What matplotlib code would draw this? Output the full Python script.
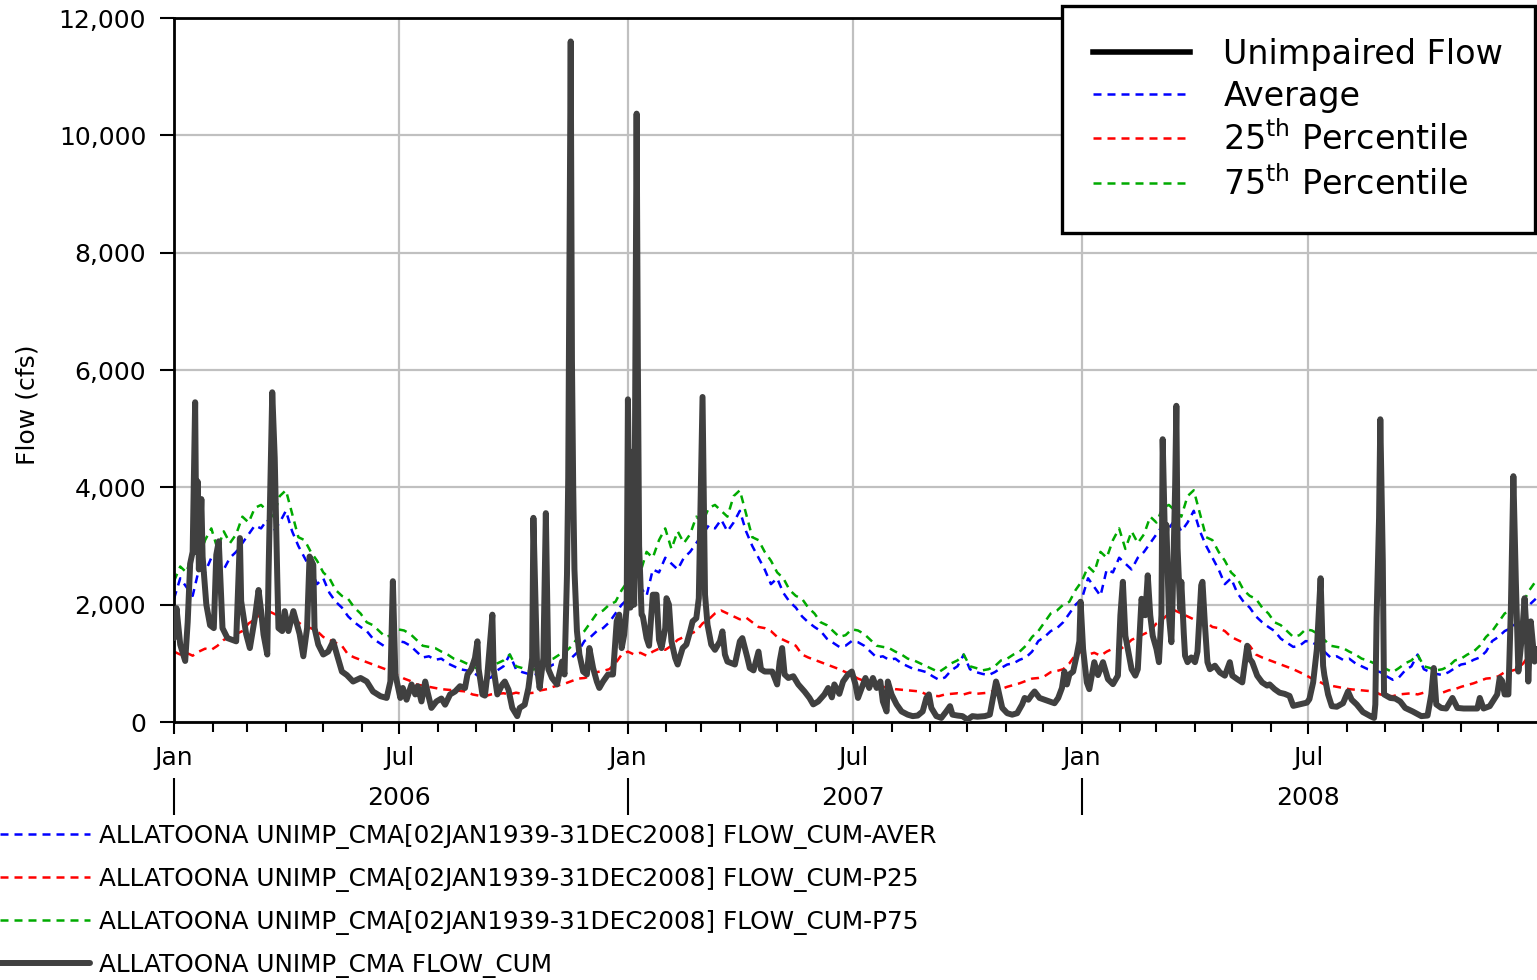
import datetime as dt
import matplotlib
matplotlib.use("Agg")
import matplotlib.pyplot as plt
import matplotlib.dates as mdates
from matplotlib.lines import Line2D
from matplotlib.ticker import FuncFormatter

plt.rcParams['font.family'] = ['DejaVu Sans']
plt.rcParams['mathtext.fontset'] = 'dejavusans'

# ---------------------------------------------------------------- data
start = dt.date(2006, 1, 1)
end = dt.date(2009, 1, 1)
years = [2006, 2007, 2008]
year_labels = ['2006', '2007', '2008']
half_labels = ['Jan', 'Jul']
flow_ticks = list(range(0, 12001, 2000))

# 1939-2008 daily statistics, every 5th day of the year (day 0 = 1 Jan)
clim_day = list(range(0, 366, 5))
aver = [2100, 2450, 2300, 2150, 2600, 2550, 2800, 2700, 2600, 2800,
        2900, 3050, 3200, 3350, 3300, 3450, 3250, 3400, 3600, 3250,
        3000, 2800, 2600, 2350, 2450, 2200, 2050, 1950, 1800, 1700,
        1620, 1550, 1420, 1350, 1280, 1300, 1380, 1360, 1300, 1200,
        1100, 1120, 1060, 1080, 1000, 950, 900, 880, 850, 780,
        720, 760, 880, 950, 1150, 900, 850, 820, 800, 850,
        920, 980, 1000, 1060, 1100, 1200, 1380, 1450, 1550, 1600,
        1700, 1850, 2000, 2100]
p25 = [1200, 1150, 1180, 1130, 1200, 1250, 1230, 1300, 1400, 1450,
       1500, 1550, 1680, 1750, 1850, 1900, 1850, 1800, 1750, 1780,
       1700, 1620, 1600, 1550, 1450, 1400, 1350, 1300, 1150, 1100,
       1060, 1020, 980, 940, 900, 850, 800, 740, 700, 640,
       620, 600, 580, 560, 550, 540, 530, 520, 470, 450,
       440, 470, 480, 490, 470, 500, 480, 490, 500, 540,
       560, 600, 630, 660, 700, 740, 750, 780, 850, 870,
       900, 1000, 1150, 1200]
p75 = [2400, 2650, 2550, 2900, 2800, 3100, 3300, 2950, 3250, 3050,
       3200, 3500, 3400, 3650, 3700, 3600, 3500, 3850, 3950, 3550,
       3150, 3100, 2900, 2750, 2550, 2450, 2250, 2150, 2100, 1950,
       1850, 1700, 1650, 1550, 1450, 1480, 1580, 1560, 1500, 1400,
       1300, 1280, 1260, 1200, 1150, 1080, 1050, 1000, 950, 900,
       850, 920, 1000, 1050, 1150, 950, 920, 880, 900, 950,
       1050, 1080, 1150, 1200, 1300, 1450, 1550, 1700, 1850, 1900,
       2000, 2050, 2250, 2400]

# unimpaired flow, days since 1 Jan 2006 and cfs
flow_day = [
    0, 2, 5, 9, 11, 13, 15, 17, 18, 19, 20, 22, 23, 26, 29, 32, 34, 36, 39, 43,
    50, 53, 54, 58, 61, 65, 68, 70, 72, 75, 76, 79, 81, 83, 84, 87, 89, 92, 96, 99,
    101, 104, 107, 109, 112, 113, 116, 120, 124, 128, 131, 135, 139, 144, 150, 155, 160, 166, 171, 174,
    176, 178, 182, 184, 187, 191, 194, 196, 199, 202, 204, 207, 211, 215, 218, 222, 226, 230, 234, 236,
    239, 242, 244, 245, 248, 250, 252, 256, 257, 260, 264, 266, 269, 272, 276, 278, 282, 285, 288, 289,
    292, 294, 297, 299, 301, 304, 308, 312, 314, 316, 317, 319, 320, 321, 322, 324, 326, 329, 332, 334,
    337, 340, 342, 345, 349, 353, 356, 358, 360, 362, 364, 365, 367, 369, 370, 372, 373, 374, 376, 377,
    380, 382, 385, 388, 390, 392, 395, 396, 398, 400, 403, 405, 409, 412, 415, 417, 420, 422, 425, 427,
    429, 432, 435, 439, 441, 443, 445, 451, 455, 457, 461, 463, 466, 470, 472, 475, 481, 485, 487, 489,
    491, 494, 498, 502, 507, 511, 514, 518, 523, 526, 529, 531, 535, 538, 542, 545, 548, 550, 553, 556,
    559, 562, 565, 568, 570, 573, 574, 577, 581, 585, 590, 594, 598, 602, 605, 607, 609, 613, 617, 621,
    624, 626, 630, 634, 638, 642, 646, 652, 656, 658, 661, 662, 666, 670, 674, 678, 682, 684, 687, 690,
    692, 696, 700, 704, 708, 711, 714, 716, 718, 720, 723, 726, 728, 729, 731, 734, 736, 740, 743, 747,
    751, 755, 759, 761, 763, 765, 767, 770, 773, 775, 778, 781, 783, 785, 787, 790, 792, 794, 795, 797,
    798, 800, 802, 803, 805, 806, 807, 809, 810, 812, 813, 815, 818, 821, 823, 826, 827, 829, 831, 833,
    837, 841, 845, 849, 851, 855, 859, 863, 865, 867, 871, 875, 879, 881, 885, 889, 893, 897, 900, 905,
    911, 913, 916, 919, 922, 924, 925, 928, 931, 935, 940, 944, 947, 951, 956, 962, 965, 966, 967, 969,
    970, 972, 973, 978, 982, 986, 990, 996, 1003, 1008, 1011, 1013, 1015, 1019, 1023, 1028, 1032, 1037, 1042, 1048,
    1050, 1053, 1058, 1064, 1066, 1068, 1070, 1073, 1075, 1077, 1079, 1081, 1084, 1086, 1088, 1089, 1091, 1093, 1094, 1096,
]
flow_cfs = [
    1430, 1940, 1320, 1040, 1700, 2700, 2900, 5450, 2900, 4100, 2600, 3800, 2820, 2000, 1650, 1600, 2850, 3080, 1600, 1430,
    1375, 3135, 2060, 1500, 1260, 1770, 2250, 1900, 1490, 1150, 2500, 5620, 4500, 2500, 1600, 1550, 1890, 1550, 1890, 1660,
    1500, 1120, 1600, 2820, 2680, 1600, 1320, 1150, 1200, 1375, 1150, 860, 800, 690, 750, 690, 520, 440, 410, 690,
    2400, 810, 410, 580, 380, 640, 470, 610, 350, 690, 500, 240, 350, 400, 295, 470, 520, 610, 580, 810,
    900, 1090, 1375, 900, 470, 450, 810, 1830, 900, 470, 640, 690, 550, 240, 100, 240, 295, 580, 1090, 3480,
    920, 580, 1090, 3560, 900, 750, 640, 1030, 810, 2510, 4160, 11600, 6150, 4000, 2600, 1550, 1150, 860, 810, 1260,
    920, 690, 580, 690, 810, 810, 1720, 1830, 1260, 1490, 1950, 5500, 1950, 4610, 2000, 10370, 6100, 3000, 1830, 1800,
    1430, 1300, 2170, 2170, 1400, 1260, 1600, 2110, 2000, 1375, 1090, 980, 1260, 1320, 1545, 1715, 1770, 2110, 5540, 2170,
    1660, 1320, 1230, 1375, 1545, 1150, 1030, 980, 1375, 1430, 1100, 920, 880, 1200, 900, 860, 860, 640, 1030, 1260,
    810, 750, 780, 640, 520, 410, 300, 350, 470, 580, 420, 640, 480, 690, 810, 860, 640, 410, 580, 750,
    580, 750, 580, 690, 350, 180, 690, 470, 300, 180, 125, 100, 110, 180, 410, 470, 240, 100, 70, 180,
    270, 125, 110, 100, 40, 100, 90, 100, 125, 350, 690, 620, 240, 150, 125, 150, 300, 410, 380, 470,
    520, 410, 380, 350, 320, 410, 580, 860, 640, 810, 860, 1150, 1375, 2050, 1245, 675, 560, 1020, 800, 1020,
    730, 645, 790, 1820, 2390, 1470, 1245, 900, 790, 900, 2100, 1820, 2500, 1820, 1470, 1245, 1020, 1820, 4820, 2960,
    3360, 1820, 1360, 2100, 3990, 5390, 2960, 1930, 2390, 1500, 1130, 1020, 1100, 1020, 1200, 2330, 2390, 1650, 1020, 900,
    960, 845, 790, 1020, 790, 730, 675, 1300, 1075, 1020, 790, 675, 620, 640, 560, 500, 480, 445, 275, 300,
    330, 390, 675, 1245, 2450, 960, 800, 470, 270, 260, 320, 520, 380, 300, 170, 100, 70, 300, 1770, 3480,
    5160, 2740, 470, 410, 400, 350, 240, 180, 100, 110, 470, 920, 300, 240, 230, 410, 240, 230, 230, 230,
    410, 230, 270, 470, 750, 700, 470, 470, 1940, 4190, 2390, 860, 1490, 2110, 1400, 690, 1715, 1260, 1030, 1245,
]

series_names = [
    'ALLATOONA UNIMP_CMA[02JAN1939-31DEC2008] FLOW_CUM-AVER',
    'ALLATOONA UNIMP_CMA[02JAN1939-31DEC2008] FLOW_CUM-P25',
    'ALLATOONA UNIMP_CMA[02JAN1939-31DEC2008] FLOW_CUM-P75',
    'ALLATOONA UNIMP_CMA FLOW_CUM',
]
key_names = ['Unimpaired Flow', 'Average',
             r'25$^{\mathrm{th}}$ Percentile', r'75$^{\mathrm{th}}$ Percentile']

# ---------------------------------------------------------------- styles
FLOW_C = '#404040'
AVER_C = '#0000ff'
P25_C = '#ff0000'
P75_C = '#00aa00'
GRID_C = '#c0c0c0'
DASH = (0, (3.2, 2.4))


def day_nums(days, origin):
    return mdates.date2num([origin + dt.timedelta(days=int(d)) for d in days])


W, H = 1537, 980
fig = plt.figure(figsize=(W / 100, H / 100), dpi=100, facecolor='white')
ax = fig.add_axes([174 / W, 1 - 722 / H, (W - 174) / W, (722 - 18) / H])

# statistics repeat every calendar year
clim_x = []
for y in years:
    clim_x.extend(day_nums(clim_day, dt.date(y, 1, 1)))
n_years = len(years)

l_aver, = ax.plot(clim_x, aver * n_years, color=AVER_C, lw=1.8, ls=DASH, zorder=2)
l_p25, = ax.plot(clim_x, p25 * n_years, color=P25_C, lw=1.8, ls=DASH, zorder=2)
l_p75, = ax.plot(clim_x, p75 * n_years, color=P75_C, lw=1.8, ls=DASH, zorder=2)
l_flow, = ax.plot(day_nums(flow_day, start), flow_cfs, color=FLOW_C, lw=4.3,
                  solid_joinstyle='round', solid_capstyle='round', zorder=3)

ax.set_xlim(mdates.date2num(start), mdates.date2num(end))
ax.set_ylim(0, 12000)

# axes frame
for side in ('left', 'bottom', 'top'):
    ax.spines[side].set_linewidth(2)
    ax.spines[side].set_color('black')
ax.spines['right'].set_visible(False)

# y axis
ax.set_yticks(flow_ticks)
ax.yaxis.set_major_formatter(FuncFormatter(lambda v, p: f'{v:,.0f}'))
ax.tick_params(axis='y', which='major', length=10, width=1.5, direction='out',
               pad=10, labelsize=18)
ax.set_ylabel('Flow (cfs)', fontsize=18, va='center')
ax.yaxis.set_label_coords(-0.1078, 0.450)

# x axis: Jan / Jul labels, monthly minor ticks
half_dates = [dt.date(y, m, 1) for y in years for m in (1, 7)]
ax.set_xticks(mdates.date2num(half_dates), labels=half_labels * n_years)
month_dates = [dt.date(y, m, 1) for y in years for m in range(1, 13)]
ax.set_xticks(mdates.date2num(month_dates), minor=True)
ax.tick_params(axis='x', which='major', length=8.5, width=1.5, direction='out',
               pad=9, labelsize=18)
ax.tick_params(axis='x', which='minor', length=7, width=1.5, direction='out')

ax.grid(True, which='major', color=GRID_C, lw=1.6)
ax.set_axisbelow(True)

# year row under the month labels
sec = ax.secondary_xaxis(-(778 - 722) / 704)
sec.set_xticks(mdates.date2num([dt.date(y, 1, 1) for y in years]), labels=[''] * n_years)
sec.set_xticks(mdates.date2num([dt.date(y, 7, 1) for y in years]), labels=year_labels, minor=True)
sec.tick_params(which='major', length=26.6, width=1.5, direction='out')
sec.tick_params(which='minor', length=0, pad=6, labelsize=18)
sec.spines['bottom'].set_visible(False)

# boxed key, upper right
key_handles = [
    Line2D([], [], color='black', lw=4),
    Line2D([], [], color=AVER_C, lw=1.8, ls=DASH),
    Line2D([], [], color=P25_C, lw=1.8, ls=DASH),
    Line2D([], [], color=P75_C, lw=1.8, ls=DASH),
]
key = fig.legend(key_handles, key_names, loc='upper right',
                 bbox_to_anchor=(1535 / W, 1 - 6 / H), borderaxespad=0,
                 fontsize=24, handlelength=2.9, handletextpad=1.0,
                 labelspacing=0.27, borderpad=0.95, fancybox=False,
                 framealpha=1, edgecolor='black')
key.get_frame().set_linewidth(2.4)

# series list along the bottom
fig.legend([l_aver, l_p25, l_p75, l_flow], series_names, loc='upper left',
           bbox_to_anchor=(0, 1 - 824 / H), borderaxespad=0, borderpad=0,
           frameon=False, fontsize=17.8, handlelength=3.65, handletextpad=0.35,
           labelspacing=0.73)

fig.savefig('out.png', dpi=100, facecolor='white')
